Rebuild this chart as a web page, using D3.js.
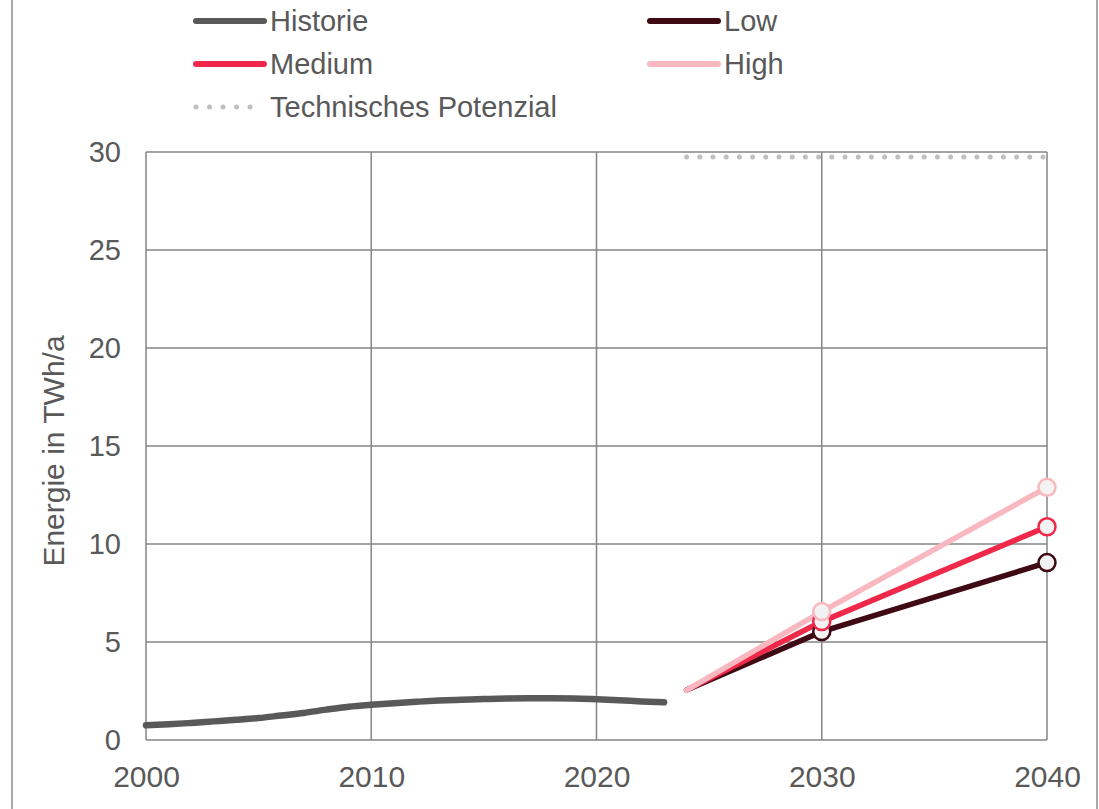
<!DOCTYPE html>
<html>
<head>
<meta charset="utf-8">
<script src="https://cdn.jsdelivr.net/npm/d3@7"></script>
<style>
  body { margin: 0; background: #fff; }
  svg { font-family: "Liberation Sans", Arial, sans-serif; }
</style>
</head>
<body>
<svg id="chart" width="1099" height="809"></svg>
<script>
// history values, one per year
const histYears = d3.range(2000, 2024);
const histValues = [0.75, 0.8, 0.87, 0.95, 1.03, 1.12, 1.25, 1.38, 1.55, 1.7, 1.8, 1.88,
    1.95, 2.01, 2.05, 2.09, 2.12, 2.13, 2.13, 2.12, 2.08, 2.03, 1.97, 1.92];

const scenYears = [2024, 2030, 2040];
const lowValues = [2.55, 5.53, 9.05];
const mediumValues = [2.55, 6.04, 10.88];
const highValues = [2.55, 6.55, 12.89];

const potYears = [2024, 2040];
const potValues = [29.75, 29.75];

const xTicks = [2000, 2010, 2020, 2030, 2040];
const yTicks = [0, 5, 10, 15, 20, 25, 30];

const colors = { hist: "#595959", low: "#3f0a14", medium: "#f0284a", high: "#f9b8c0", pot: "#bfbfbf" };

const svg = d3.select("#chart");
const x = d3.scaleLinear().domain([2000, 2040]).range([146, 1047]);
const y = d3.scaleLinear().domain([0, 30]).range([740, 152]);

// outer frame lines
svg.append("line").attr("x1", 12).attr("x2", 12).attr("y1", 0).attr("y2", 809).attr("stroke", "#8c8c8c").attr("stroke-width", 1.5);
svg.append("line").attr("x1", 1097).attr("x2", 1097).attr("y1", 0).attr("y2", 809).attr("stroke", "#8c8c8c").attr("stroke-width", 1.5);

// grid
const grid = svg.append("g").attr("stroke", "#858585").attr("stroke-width", 1.5);
grid.selectAll(".hg").data(yTicks).join("line")
    .attr("x1", x(2000)).attr("x2", x(2040))
    .attr("y1", d => y(d)).attr("y2", d => y(d));
grid.selectAll(".vg").data(xTicks).join("line")
    .attr("x1", d => x(d)).attr("x2", d => x(d))
    .attr("y1", y(0)).attr("y2", y(30));

// axes labels
const yAxis = d3.axisLeft(y).tickValues(yTicks).tickSize(0).tickPadding(25);
svg.append("g").attr("transform", `translate(${x(2000)},0)`).call(yAxis)
    .call(g => g.select(".domain").remove())
    .selectAll("text").attr("font-size", 29).attr("fill", "#595959")
    .attr("font-family", "Liberation Sans, Arial, sans-serif");

const xAxis = d3.axisBottom(x).tickValues(xTicks).tickFormat(d3.format("d")).tickSize(0).tickPadding(26);
svg.append("g").attr("transform", `translate(0,${y(0)})`).call(xAxis)
    .call(g => g.select(".domain").remove())
    .selectAll("text").attr("font-size", 30).attr("fill", "#595959")
    .attr("font-family", "Liberation Sans, Arial, sans-serif");

svg.append("text")
    .attr("transform", `translate(64,${(y(0) + y(30)) / 2 + 5}) rotate(-90)`)
    .attr("text-anchor", "middle")
    .attr("font-size", 30).attr("fill", "#595959")
    .text("Energie in TWh/a");

// technical potential
const line = d3.line().x(d => x(d[0])).y(d => y(d[1]));
svg.append("path")
    .datum(d3.zip(potYears, potValues))
    .attr("d", line)
    .attr("fill", "none").attr("stroke", colors.pot).attr("stroke-width", 5)
    .attr("stroke-linecap", "round").attr("stroke-dasharray", "0 13.2");

// history
svg.append("path")
    .datum(d3.zip(histYears, histValues))
    .attr("d", line.curve(d3.curveMonotoneX))
    .attr("fill", "none").attr("stroke", colors.hist).attr("stroke-width", 6.5)
    .attr("stroke-linecap", "round");

const straight = d3.line().x(d => x(d[0])).y(d => y(d[1]));
const scenarios = [
    { key: "low", values: lowValues },
    { key: "medium", values: mediumValues },
    { key: "high", values: highValues }
];

scenarios.forEach(s => {
    svg.append("path")
        .datum(d3.zip(scenYears, s.values))
        .attr("d", straight)
        .attr("fill", "none").attr("stroke", colors[s.key]).attr("stroke-width", 5.5)
        .attr("stroke-linecap", "round");
});
scenarios.forEach(s => {
    svg.selectAll(null)
        .data(d3.zip(scenYears, s.values).slice(1))
        .join("circle")
        .attr("cx", d => x(d[0])).attr("cy", d => y(d[1]))
        .attr("r", 8.5)
        .attr("fill", "#f2f2f2").attr("stroke", colors[s.key]).attr("stroke-width", 2.5);
});

// legend
const legendItems = [
    { label: "Historie", color: colors.hist, x: 196, y: 21, dotted: false },
    { label: "Low", color: colors.low, x: 650, y: 21, dotted: false },
    { label: "Medium", color: colors.medium, x: 196, y: 64, dotted: false },
    { label: "High", color: colors.high, x: 650, y: 64, dotted: false },
    { label: "Technisches Potenzial", color: colors.pot, x: 196, y: 107, dotted: true }
];
const leg = svg.append("g").selectAll("g").data(legendItems).join("g")
    .attr("transform", d => `translate(${d.x},${d.y})`);
leg.append("line")
    .attr("x1", 0).attr("x2", d => d.dotted ? 55 : 68)
    .attr("stroke", d => d.color).attr("stroke-width", 6).attr("stroke-linecap", "round")
    .attr("stroke-dasharray", d => d.dotted ? "0 13.5" : null)
    .attr("stroke-width", d => d.dotted ? 5 : 6);
leg.append("text")
    .attr("x", 74).attr("dy", "0.35em")
    .attr("font-size", 29).attr("fill", "#595959")
    .text(d => d.label);
</script>
</body>
</html>
